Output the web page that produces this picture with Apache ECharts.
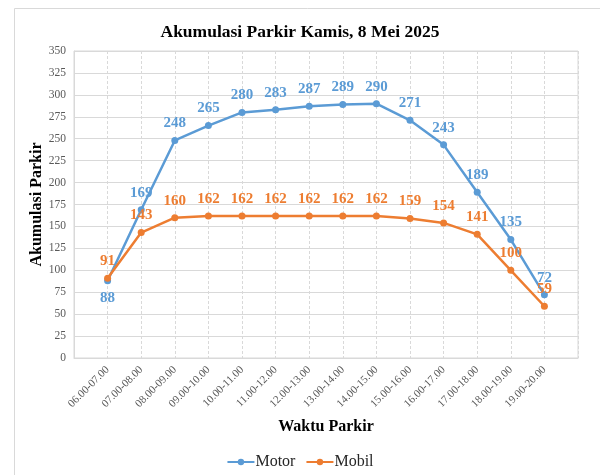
<!DOCTYPE html>
<html>
<head>
<meta charset="utf-8">
<script src="https://cdn.jsdelivr.net/npm/echarts@6/dist/echarts.min.js"></script>
<style>
  html, body { margin: 0; padding: 0; background: #fff; }
  #chart { width: 600px; height: 475px; }
</style>
</head>
<body>
<div id="chart"></div>
<script>
const waktu = ['06.00-07.00', '07.00-08.00', '08.00-09.00', '09.00-10.00', '10.00-11.00',
  '11.00-12.00', '12.00-13.00', '13.00-14.00', '14.00-15.00', '15.00-16.00',
  '16.00-17.00', '17.00-18.00', '18.00-19.00', '19.00-20.00'];
const motor = [88, 169, 248, 265, 280, 283, 287, 289, 290, 271, 243, 189, 135, 72];
const mobil = [91, 143, 160, 162, 162, 162, 162, 162, 162, 159, 154, 141, 100, 59];

const serif = 'Liberation Serif';
const blue = '#5B9BD5';
const orange = '#ED7D31';

// Excel leaves an empty slot before the first and after the last category
const pad = (arr) => ['-', ...arr, '-'];
const axisCats = ['', ...waktu, ''];

const chart = echarts.init(document.getElementById('chart'));

chart.setOption({
  animation: false,
  graphic: [{
    type: 'rect',
    left: 12, top: 6,
    shape: { width: 620, height: 500 },
    style: { fill: 'none', stroke: '#d9d9d9', lineWidth: 1 },
    silent: true,
  }],
  title: {
    text: 'Akumulasi Parkir Kamis, 8 Mei 2025',
    left: 'center',
    top: 18,
    textStyle: { fontFamily: serif, fontSize: 17.5, fontWeight: 'bold', color: '#000' },
  },
  grid: {
    left: 74, right: 22, top: 51, bottom: 117,
    show: true, borderColor: '#d9d9d9', borderWidth: 1,
  },
  legend: {
    bottom: 0,
    left: 'center',
    itemWidth: 27,
    itemHeight: 8,
    itemGap: 10,
    textStyle: { fontFamily: serif, fontSize: 16, color: '#262626', padding: [0, 0, 0, -4] },
    data: ['Motor', 'Mobil'],
  },
  xAxis: {
    type: 'category',
    data: axisCats,
    boundaryGap: false,
    name: 'Waktu Parkir',
    nameLocation: 'middle',
    nameGap: 61,
    nameMoveOverlap: false,
    nameTextStyle: { fontFamily: serif, fontSize: 16, fontWeight: 'bold', color: '#000' },
    axisLine: { lineStyle: { color: '#d9d9d9' } },
    axisTick: { show: false },
    axisLabel: {
      interval: 0, rotate: 45, margin: 10,
      fontFamily: serif, fontSize: 11, color: '#595959',
    },
    splitLine: { show: true, lineStyle: { color: '#d9d9d9', type: [3, 2] } },
  },
  yAxis: {
    type: 'value',
    min: 0, max: 350, interval: 25,
    name: 'Akumulasi Parkir',
    nameLocation: 'middle',
    nameGap: 29,
    nameMoveOverlap: false,
    nameTextStyle: { fontFamily: serif, fontSize: 16, fontWeight: 'bold', color: '#000' },
    axisLine: { show: true, lineStyle: { color: '#d9d9d9' } },
    axisTick: { show: false },
    axisLabel: { margin: 8, fontFamily: serif, fontSize: 11.5, color: '#595959' },
    splitLine: { lineStyle: { color: '#d9d9d9' } },
  },
  series: [
    {
      name: 'Motor',
      type: 'line',
      data: pad(motor).map((v, i) => i === 1
        ? { value: v, label: { position: 'bottom' } } : v),
      color: blue,
      symbol: 'circle',
      symbolSize: 7,
      lineStyle: { width: 2.5 },
      label: {
        show: true, position: 'top', distance: 6,
        fontFamily: serif, fontSize: 15, fontWeight: 'bold', color: blue,
      },
    },
    {
      name: 'Mobil',
      type: 'line',
      data: pad(mobil),
      color: orange,
      symbol: 'circle',
      symbolSize: 7,
      lineStyle: { width: 2.5 },
      label: {
        show: true, position: 'top', distance: 6,
        fontFamily: serif, fontSize: 15, fontWeight: 'bold', color: orange,
      },
    },
  ],
});
</script>
</body>
</html>
